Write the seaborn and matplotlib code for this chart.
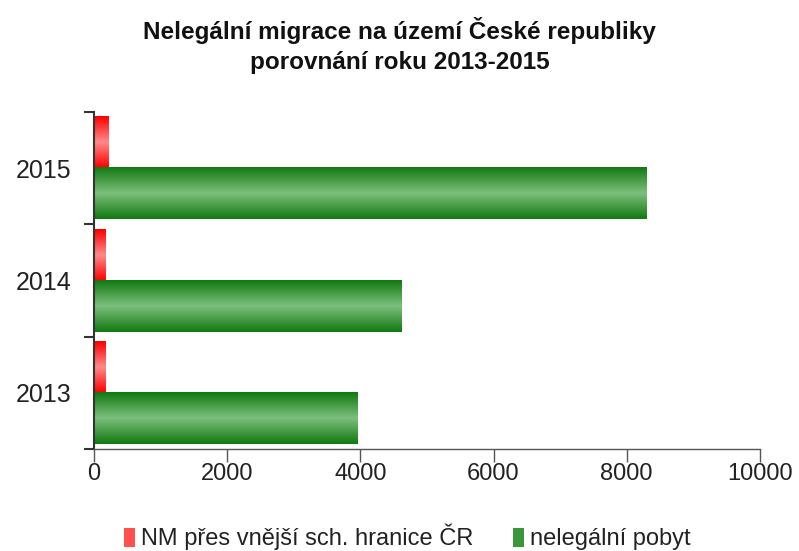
import numpy as np
import pandas as pd
import matplotlib
matplotlib.use("Agg")
import matplotlib.pyplot as plt
import seaborn as sns
from matplotlib.colors import LinearSegmentedColormap

years = ["2015", "2014", "2013"]
nm_hranice = [225, 180, 180]
nelegalni_pobyt = [8300, 4620, 3950]
series_names = ["NM přes vnější sch. hranice ČR", "nelegální pobyt"]
x_ticks = [0, 2000, 4000, 6000, 8000, 10000]

df = pd.DataFrame({
    "rok": years * 2,
    "hodnota": nm_hranice + nelegalni_pobyt,
    "serie": [series_names[0]] * 3 + [series_names[1]] * 3,
})

sns.set_style("white")
plt.rcParams["font.family"] = ["Liberation Sans", "DejaVu Sans"]

fig = plt.figure(figsize=(7.99, 5.51), dpi=100)
ax = fig.add_axes([0.1176, 0.1851, 0.8335, 0.6116])

palette = {series_names[0]: "#ff2020", series_names[1]: "#1e8a1e"}
sns.barplot(data=df, x="hodnota", y="rok", hue="serie", order=years,
            hue_order=series_names, palette=palette, orient="h",
            width=0.91, ax=ax, legend=True, saturation=1)

# gradient fill for bars
red_cmap = LinearSegmentedColormap.from_list("r", ["#ff0000", "#ff8a8a", "#ff0000"])
green_cmap = LinearSegmentedColormap.from_list("g", ["#127a12", "#7dc07d", "#127a12"])
grad = np.linspace(0, 1, 64).reshape(-1, 1)
for p in list(ax.patches):
    x0, y0 = p.get_x(), p.get_y()
    w, h = p.get_width(), p.get_height()
    if w == 0 or h == 0:
        continue
    fc = p.get_facecolor()
    cmap = red_cmap if fc[0] > 0.9 and fc[1] < 0.5 else green_cmap
    ax.imshow(grad, cmap=cmap, aspect="auto",
              extent=(x0, x0 + w, y0 + h, y0), zorder=p.get_zorder() + 0.1,
              interpolation="bilinear")
    p.set_facecolor("none")

ax.set_xlim(0, 10000)
ax.set_ylim(2.5, -0.5)
ax.set_xticks(x_ticks)
ax.set_xticklabels([str(t) for t in x_ticks], fontsize=17, color="#222222")
ax.set_yticks(range(len(years)))
ax.set_yticklabels(years, fontsize=18, color="#222222")
ax.set_yticks([-0.5, 0.5, 1.5, 2.5], minor=True)
ax.tick_params(axis="y", which="major", left=True, length=0, pad=16)
ax.tick_params(axis="y", which="minor", left=True, length=7, width=1.5,
               color="#333333", direction="out")
ax.tick_params(axis="x", which="major", bottom=True, length=9, width=1,
               color="#555555", direction="out", pad=1)
ax.set_xlabel("")
ax.set_ylabel("")
for s in ["top", "right"]:
    ax.spines[s].set_visible(False)
ax.spines["left"].set_color("#333333")
ax.spines["left"].set_linewidth(1.5)
ax.spines["bottom"].set_color("#555555")
ax.spines["bottom"].set_linewidth(1)

fig.text(0.5, 0.944, "Nelegální migrace na území České republiky",
         ha="center", va="center", fontsize=17.5, fontweight="bold", color="#111111")
fig.text(0.5, 0.887, "porovnání roku 2013-2015",
         ha="center", va="center", fontsize=17.5, fontweight="bold", color="#111111")

ax.get_legend().remove()
handles = [plt.Rectangle((0, 0), 1, 1, facecolor=c, edgecolor="none")
           for c in ["#ff5050", "#3a963a"]]
fig.legend(handles, series_names, loc="center", bbox_to_anchor=(0.51, 0.025),
           ncol=2, frameon=False, fontsize=17, handlelength=0.45, handleheight=0.9,
           handletextpad=0.25, columnspacing=1.7, labelcolor="#222222")

fig.savefig("out.png", dpi=100)
